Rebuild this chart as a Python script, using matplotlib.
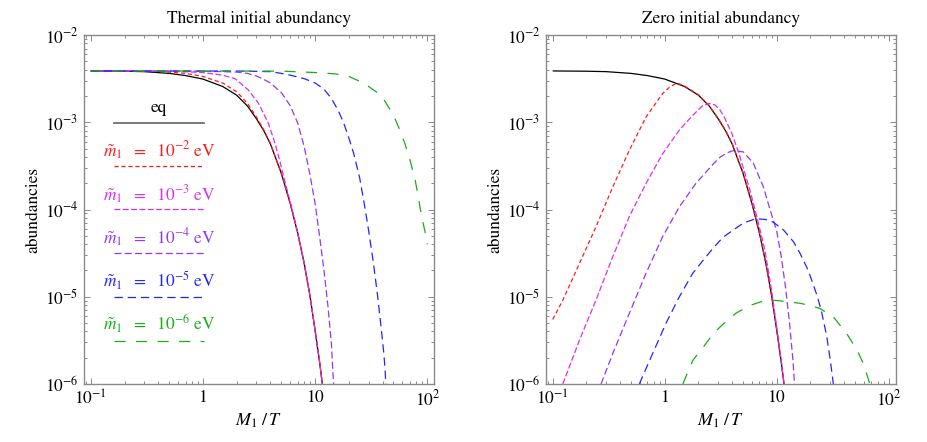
import numpy as np
import matplotlib
matplotlib.use("Agg")
import matplotlib.pyplot as plt
from matplotlib.ticker import LogLocator, FixedLocator, FixedFormatter, NullFormatter

plt.rcParams['font.family'] = ['STIXGeneral', 'DejaVu Serif']
plt.rcParams['mathtext.fontset'] = 'stix'
plt.rcParams['lines.scale_dashes'] = False

# ---------------- data (x = M1/T, values = log10 of abundance) ----------------
# equilibrium abundance (both panels)
eq_x = [0.1, 0.2, 0.3, 0.5, 0.7, 1.0, 1.5, 2.0, 2.5, 3.0, 3.5, 4.0, 5.0, 6.0, 7.0, 8.0, 9.0, 10.0, 11.0, 11.6]
eq_log = [-2.412, -2.415, -2.420, -2.440, -2.465, -2.505, -2.590, -2.690, -2.815, -2.960, -3.100, -3.250,
          -3.585, -3.930, -4.270, -4.620, -4.990, -5.385, -5.760, -6.0]

# thermal initial abundance
th_red_x = [0.1, 0.3, 0.5, 0.7, 1.0, 1.5, 2.0, 2.5, 3.0, 3.5, 4.0, 5.0, 6.0, 7.0, 8.0, 9.0, 10.0, 11.0, 11.6]
th_red_log = [-2.412, -2.414, -2.425, -2.440, -2.475, -2.550, -2.650, -2.785, -2.940, -3.090, -3.245, -3.585,
              -3.930, -4.270, -4.620, -4.990, -5.385, -5.760, -6.0]
th_mag_x = [0.1, 0.5, 1.0, 1.5, 1.93, 2.54, 3.12, 3.83, 4.39, 4.86, 5.38, 5.97, 6.6, 7.0, 8.0, 9.0, 10.0, 11.0, 11.6]
th_mag_log = [-2.412, -2.414, -2.43, -2.46, -2.50, -2.63, -2.78, -3.01, -3.24, -3.45, -3.68, -3.90, -4.12,
              -4.265, -4.615, -4.985, -5.380, -5.755, -6.0]
th_pur_x = [0.1, 1.0, 1.5, 2.0, 2.5, 3.0, 3.5, 4.0, 5.0, 6.0, 7.0, 8.0, 9.0, 10.0, 11.0, 12.0, 13.0, 14.0, 14.6]
th_pur_log = [-2.412, -2.415, -2.42, -2.425, -2.44, -2.47, -2.51, -2.55, -2.66, -2.81, -3.01, -3.28, -3.60,
              -3.93, -4.32, -4.70, -5.10, -5.55, -6.0]
th_blu_x = [0.1, 2.0, 4.0, 5.0, 6.0, 8.0, 10.0, 12.0, 14.0, 16.0, 18.0, 20.0, 22.0, 25.0, 28.0, 30.0, 33.0,
            36.0, 39.0, 41.0, 42.0, 42.7]
th_blu_log = [-2.412, -2.413, -2.42, -2.44, -2.46, -2.50, -2.55, -2.62, -2.73, -2.86, -3.01, -3.18, -3.35,
              -3.64, -4.00, -4.24, -4.60, -4.98, -5.38, -5.65, -5.82, -6.0]
th_grn_x = [0.1, 5.0, 10.0, 15.0, 20.0, 27.0, 35.0, 42.0, 50.0, 57.0, 63.0, 70.0, 78.0, 83.0, 89.0, 95.0, 100.0]
th_grn_log = [-2.412, -2.414, -2.43, -2.445, -2.475, -2.55, -2.65, -2.76, -2.92, -3.09, -3.24, -3.43, -3.66,
              -3.85, -4.08, -4.24, -4.40]

# zero initial abundance
z_red_x = [0.1, 0.123, 0.173, 0.243, 0.344, 0.483, 0.681, 0.959, 1.1, 1.28, 1.5, 2.0, 2.5, 3.0, 3.5, 4.0,
           5.0, 6.0, 7.0, 8.0, 9.0, 10.0, 11.0, 11.6]
z_red_log = [-5.26, -5.04, -4.62, -4.20, -3.74, -3.32, -2.94, -2.67, -2.60, -2.55, -2.585, -2.685, -2.810,
             -2.955, -3.095, -3.245, -3.58, -3.925, -4.265, -4.615, -4.985, -5.38, -5.755, -6.0]
z_mag_x = [0.123, 0.173, 0.243, 0.344, 0.483, 0.681, 0.959, 1.35, 1.78, 2.18, 2.5, 2.8, 3.12, 3.44, 3.96,
           4.54, 5.04, 5.77, 6.39, 7.1, 7.85, 9.0, 10.0, 11.0, 11.6]
z_mag_log = [-6.0, -5.50, -5.04, -4.54, -4.08, -3.70, -3.36, -3.09, -2.92, -2.81, -2.785, -2.80, -2.86,
             -2.955, -3.125, -3.335, -3.53, -3.78, -4.0, -4.235, -4.47, -4.93, -5.35, -5.75, -6.0]
z_pur_x = [0.27, 0.344, 0.483, 0.681, 0.959, 1.35, 1.90, 2.34, 2.7, 3.12, 3.6, 4.1, 5.04, 6.18, 7.59, 8.61,
           10.0, 11.0, 12.0, 13.0, 14.0, 14.4]
z_pur_log = [-6.0, -5.65, -5.19, -4.73, -4.31, -3.97, -3.70, -3.57, -3.48, -3.40, -3.35, -3.325, -3.34,
             -3.47, -3.74, -3.98, -4.25, -4.55, -4.90, -5.30, -5.75, -6.0]
z_blu_x = [0.593, 0.78, 1.03, 1.35, 1.78, 2.34, 2.72, 3.3, 4.09, 5.04, 6.5, 8.0, 9.3, 11.5, 14.1, 16.1, 18.5,
           20.0, 22.8, 25.0, 27.9, 30.0, 32.0]
z_blu_log = [-6.0, -5.65, -5.30, -5.00, -4.73, -4.54, -4.44, -4.32, -4.235, -4.155, -4.105, -4.115, -4.145,
             -4.235, -4.37, -4.50, -4.66, -4.77, -4.98, -5.16, -5.45, -5.72, -6.0]
z_grn_x = [1.45, 1.78, 2.26, 2.72, 3.34, 4.3, 5.77, 7.5, 9.3, 12.3, 16.1, 20.0, 24.3, 32.0, 42.0, 52.0, 59.0,
           66.0, 67.5]
z_grn_log = [-6.0, -5.73, -5.56, -5.42, -5.31, -5.19, -5.10, -5.05, -5.04, -5.055, -5.075, -5.10, -5.135,
             -5.23, -5.42, -5.61, -5.76, -5.95, -6.0]

mtilde_exp = ['-2', '-3', '-4', '-5', '-6']
x_tick_vals = [0.1, 1, 10, 100]
x_tick_labels = [r'$10^{-1}$', r'$1$', r'$10$', r'$10^{2}$']
y_tick_vals = [1e-6, 1e-5, 1e-4, 1e-3, 1e-2]
y_tick_labels = [r'$10^{-6}$', r'$10^{-5}$', r'$10^{-4}$', r'$10^{-3}$', r'$10^{-2}$']
titles = ['Thermal initial abundancy', 'Zero initial abundancy']

# ---------------- styles ----------------
colors = ['#ff1a1a', '#d92ef0', '#8f38ff', '#2424ff', '#14b014']
dashes = [(3.0, 2.0), (4.2, 1.8), (5.0, 2.4), (6.0, 3.5), (8.0, 7.5)]
frame_col = '#8a8a8a'
LW = 0.9

thermal = [(th_red_x, th_red_log), (th_mag_x, th_mag_log), (th_pur_x, th_pur_log),
           (th_blu_x, th_blu_log), (th_grn_x, th_grn_log)]
zero = [(z_red_x, z_red_log), (z_mag_x, z_mag_log), (z_pur_x, z_pur_log),
        (z_blu_x, z_blu_log), (z_grn_x, z_grn_log)]

fig = plt.figure(figsize=(9.27, 4.42), dpi=100)
W, H = 927.0, 442.0
ax1 = fig.add_axes([84 / W, (H - 384) / H, 350 / W, 349 / H])
ax2 = fig.add_axes([546 / W, (H - 384) / H, 349.5 / W, 349 / H])

for ax, series, title in [(ax1, thermal, titles[0]), (ax2, zero, titles[1])]:
    ax.set_xscale('log')
    ax.set_yscale('log')
    ax.plot(eq_x, 10.0 ** np.array(eq_log), color='black', lw=LW, solid_capstyle='butt')
    for (sx, sl), c, d in zip(series, colors, dashes):
        ax.plot(sx, 10.0 ** np.array(sl), color=c, lw=LW, dashes=d)
    ax.set_xlim(10 ** -1.06, 10 ** 2.06)
    ax.set_ylim(1e-6, 1e-2)
    ax.xaxis.set_major_locator(FixedLocator(x_tick_vals))
    ax.xaxis.set_major_formatter(FixedFormatter(x_tick_labels))
    ax.yaxis.set_major_locator(FixedLocator(y_tick_vals))
    ax.yaxis.set_major_formatter(FixedFormatter(y_tick_labels))
    ax.xaxis.set_minor_locator(LogLocator(base=10, subs=np.arange(2, 10), numticks=20))
    ax.yaxis.set_minor_locator(LogLocator(base=10, subs=np.arange(2, 10), numticks=20))
    ax.xaxis.set_minor_formatter(NullFormatter())
    ax.yaxis.set_minor_formatter(NullFormatter())
    ax.tick_params(which='both', direction='in', top=True, right=True, color=frame_col,
                   width=0.7, labelsize=12.5)
    ax.tick_params(which='major', length=4.3, pad=4)
    ax.tick_params(which='minor', length=2.2)
    for sp in ax.spines.values():
        sp.set_color(frame_col)
        sp.set_linewidth(1.0)
    ax.set_ylabel('abundancies', fontsize=12.5)
    ax.yaxis.label.set_va('center')
    ax.yaxis.set_label_coords(-0.146, 0.5)
    ax.set_xlabel(r'$M_{\mathit{1}}\ /\,T$', fontsize=13)
    ax.xaxis.label.set_va('center')
    ax.xaxis.set_label_coords(0.5, -0.105)
    ax.text(0.5, 1.046, title, transform=ax.transAxes, ha='center', va='center', fontsize=12.5)

# legend drawn in the left panel (Mathematica style: text above line sample)
lx0, lx1, lxc = 0.0857, 0.343, 0.214
ax1.text(lxc, 0.780, 'eq', transform=ax1.transAxes, ha='center', va='baseline', fontsize=12.5)
ax1.plot([lx0, lx1], [0.749, 0.749], transform=ax1.transAxes, color='#707070', lw=1.3)
text_y = [0.6513, 0.5252, 0.4011, 0.2759, 0.1527]
line_y = [0.625, 0.5006, 0.3745, 0.2484, 0.1241]
for e, c, d, ty, ly in zip(mtilde_exp, colors, dashes, text_y, line_y):
    ax1.text(lxc, ty, r'$\tilde{m}_{\mathit{1}}\ \ =\ \ 10^{' + e + r'}\ \mathrm{eV}$',
             transform=ax1.transAxes, ha='center', va='baseline', color=c, fontsize=12.5)
    ax1.plot([lx0, lx1], [ly, ly], transform=ax1.transAxes, color=c, lw=LW, dashes=d)

fig.savefig('out.png', dpi=100)
